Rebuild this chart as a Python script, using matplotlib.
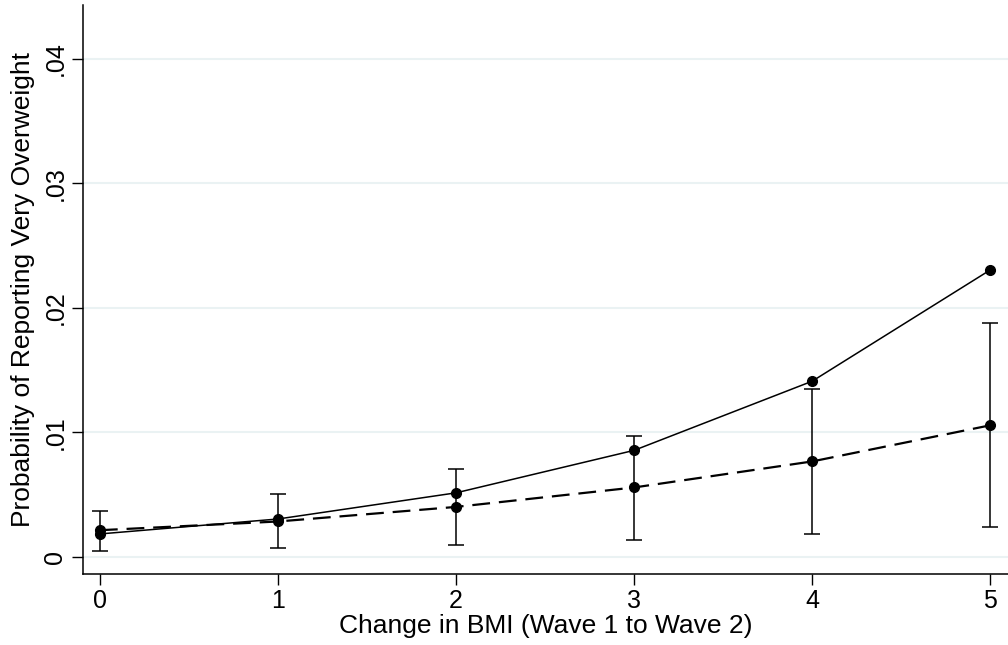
import matplotlib.pyplot as plt
import numpy as np

# === 資料 ===
bmi_change = [0, 1, 2, 3, 4, 5]
prob_solid = [0.00185, 0.00305, 0.00515, 0.00856, 0.01411, 0.02304]
prob_dashed = [0.00215, 0.00285, 0.00402, 0.00558, 0.00767, 0.01057]
ci_low = [0.00051, 0.00075, 0.00097, 0.00137, 0.00183, 0.00239]
ci_high = [0.00368, 0.00507, 0.00705, 0.00974, 0.01352, 0.01875]
y_ticks = [0, 0.01, 0.02, 0.03, 0.04]
y_ticklabels = ["0", ".01", ".02", ".03", ".04"]

plt.rcParams['font.family'] = ['Liberation Sans', 'DejaVu Sans']

fig = plt.figure(figsize=(10.08, 6.45), dpi=100)
ax = fig.add_axes([0.082, 0.110, 0.918, 0.882])

for y in y_ticks:
    ax.axhline(y, color='#eaf2f3', lw=1.5, zorder=0)

yerr = [np.array(prob_dashed) - np.array(ci_low), np.array(ci_high) - np.array(prob_dashed)]
ax.errorbar(bmi_change, prob_dashed, yerr=yerr, fmt='none', ecolor='black',
            elinewidth=1.1, capsize=6, capthick=1.1, zorder=2)
ax.plot(bmi_change, prob_solid, color='black', lw=1.1, marker='o', markersize=7, zorder=3)
ax.plot(bmi_change, prob_dashed, color='black', lw=1.6, dashes=(8, 4),
        marker='o', markersize=7, zorder=3)

ax.set_xlim(-0.097, 5.1)
ax.set_ylim(-0.00137, 0.0443)
ax.set_xticks(bmi_change)
ax.set_xticklabels([str(v) for v in bmi_change], fontsize=18)
ax.set_yticks(y_ticks)
ax.set_yticklabels(y_ticklabels, rotation=90, va='center', fontsize=18)
ax.tick_params(direction='out', length=8, width=1, pad=3)

for s in ['top', 'right']:
    ax.spines[s].set_visible(False)
for s in ['left', 'bottom']:
    ax.spines[s].set_linewidth(1.1)

ax.set_xlabel("Change in BMI (Wave 1 to Wave 2)", fontsize=19, va='center')
ax.set_ylabel("Probability of Reporting Very Overweight", fontsize=19, va='center')
ax.xaxis.set_label_coords(0.5, -0.092)
ax.yaxis.set_label_coords(-0.065, 0.5)

plt.savefig("out.png", dpi=100)
plt.close()
